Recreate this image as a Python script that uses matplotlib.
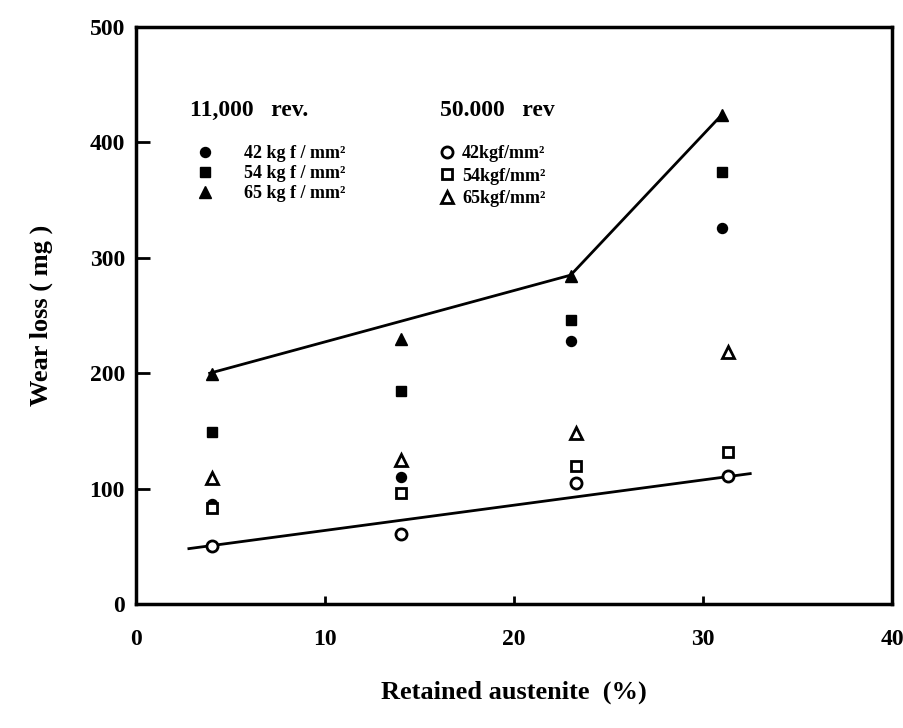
import matplotlib.pyplot as plt
from matplotlib.lines import Line2D

plt.rcParams['font.family'] = ['Liberation Serif', 'DejaVu Serif']
plt.rcParams['font.weight'] = 'bold'

# retained austenite (%) for each group of points
x_fill = [4, 14, 23, 31]
x_open = [4, 14, 23.3, 31.3]

# 11,000 rev. (filled markers)
fill_42 = [87, 110, 228, 326]
fill_54 = [149, 185, 246, 374]
fill_65 = [199, 230, 284, 424]

# 50,000 rev (open markers)
open_42 = [50, 61, 105, 111]
open_54 = [83, 96, 120, 132]
open_65 = [109, 125, 148, 218]

# trend lines drawn by hand in the original
upper_x = [3.9, 23, 31]
upper_y = [200, 285, 424]
lower_x = [2.8, 32.5]
lower_y = [48, 113]

fig = plt.figure(figsize=(9.04, 7.28), dpi=100)
ax = fig.add_axes([0.1504, 0.1703, 0.8363, 0.7926])

ax.plot(upper_x, upper_y, color='black', lw=2)
ax.plot(lower_x, lower_y, color='black', lw=2)

ms = 8
ax.plot(x_fill, fill_42, 'o', color='black', ms=ms * 0.9)
ax.plot(x_open, open_54, 's', mfc='white', mec='black', mew=2, ms=ms * 0.85)
ax.plot(x_fill, fill_54, 's', color='black', ms=ms * 0.9)
ax.plot(x_fill, fill_65, '^', color='black', ms=ms)
ax.plot(x_open, open_42, 'o', mfc='white', mec='black', mew=2, ms=ms)
ax.plot(x_open, open_65, '^', mfc='white', mec='black', mew=2, ms=ms)

ax.set_xlim(0, 40)
ax.set_ylim(0, 500)
ax.set_xticks([0, 10, 20, 30, 40])
ax.set_yticks([0, 100, 200, 300, 400, 500])
ax.tick_params(axis='x', direction='in', length=6, width=2, pad=18, labelsize=17)
ax.tick_params(axis='y', direction='in', length=10, width=2, pad=8, labelsize=17)
for s in ax.spines.values():
    s.set_linewidth(2.5)

ax.set_xlabel('Retained austenite  (%)', fontsize=19, fontweight='bold', labelpad=22)
ax.set_ylabel('Wear loss ( mg )', fontsize=19, fontweight='bold', labelpad=26)

ax.text(0.071, 0.856, '11,000   rev.', transform=ax.transAxes, fontsize=17,
        fontweight='bold', ha='left', va='center')
ax.text(0.402, 0.856, '50.000   rev', transform=ax.transAxes, fontsize=17,
        fontweight='bold', ha='left', va='center')

h1 = [Line2D([], [], ls='', marker='o', color='black', ms=ms * 0.9),
      Line2D([], [], ls='', marker='s', color='black', ms=ms * 0.9),
      Line2D([], [], ls='', marker='^', color='black', ms=ms)]
l1 = ['42 kg f / mm²', '54 kg f / mm²', '65 kg f / mm²']
leg1 = ax.legend(h1, l1, loc='upper left', bbox_to_anchor=(0.079, 0.795),
                 frameon=False, fontsize=13, handlelength=1, handletextpad=1.7,
                 labelspacing=0.17, borderpad=0, borderaxespad=0)
ax.add_artist(leg1)

h2 = [Line2D([], [], ls='', marker='o', mfc='white', mec='black', mew=2, ms=ms),
      Line2D([], [], ls='', marker='s', mfc='white', mec='black', mew=2, ms=ms * 0.85),
      Line2D([], [], ls='', marker='^', mfc='white', mec='black', mew=2, ms=ms)]
l2 = ['42kgf/mm²', '54kgf/mm²', '65kgf/mm²']
ax.legend(h2, l2, loc='upper left', bbox_to_anchor=(0.399, 0.795),
          frameon=False, fontsize=13, handlelength=1, handletextpad=0.35,
          labelspacing=0.3, borderpad=0, borderaxespad=0)

fig.savefig('out.png', dpi=100)
